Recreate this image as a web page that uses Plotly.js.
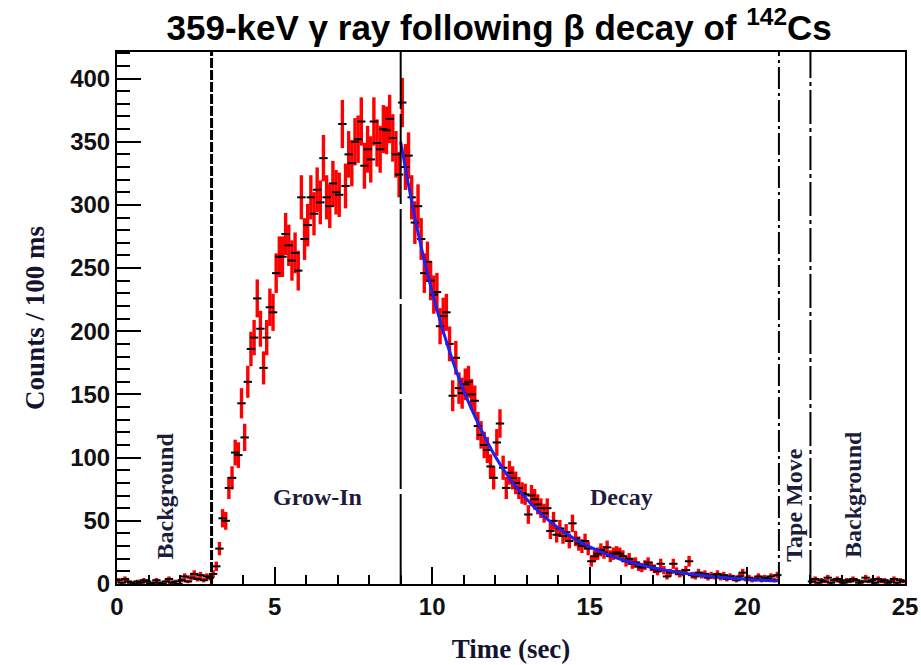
<!DOCTYPE html>
<html>
<head>
<meta charset="utf-8">
<script src="https://cdn.plot.ly/plotly-3.0.1.min.js"></script>
<style>html,body{margin:0;padding:0;background:#fff;}#chart{width:921px;height:665px;}</style>
</head>
<body>
<div id="chart"></div>
<script>
// ---- data (counts per 100 ms bin) ----
const binWidth = 0.1;
const bgLeftStart = 0.0;
const bgLeftCounts = [
  3,1,4,2,1,0,2,1,3,2,
  0,1,3,1,0,2,4,1,2,0,
  3,6,2,5,8,4,7,3,6,5
];
const growInStart = 3.0;
const growInCounts = [
  8,14,28,52,50,76,84,104,102,143,
  116,160,186,195,226,202,171,195,219,215,
  246,259,259,277,268,256,262,248,306,273,
  284,306,293,312,302,337,306,299,317,310,
  308,364,315,340,333,350,352,366,331,344,
  336,366,349,344,360,359,368,353,340,324
];
const decayStart = 9.0;
const decayCounts = [
  381,330,339,306,286,299,273,246,255,240,
  229,231,204,212,215,190,149,179,155,151,
  158,160,150,145,125,118,110,106,93,84,
  112,127,92,76,88,84,80,76,72,71,
  55,70,67,63,60,56,60,42,50,39,
  44,38,41,34,48,36,32,30,34,28,
  18,22,24,27,25,29,22,24,25,24,
  22,18,20,16,17,14,13,15,17,14,
  12,10,16,11,6,9,16,10,8,9,
  11,18,7,6,9,7,8,5,7,6,
  8,5,7,4,6,5,3,6,9,4,
  5,3,4,6,3,5,4,6,3,7
];
const bgRightStart = 22.0;
const bgRightCounts = [
  2,4,1,3,2,5,1,3,4,2,
  1,3,2,4,3,1,2,5,2,3,
  1,4,2,3,1,2,4,1,3,2
];
// decay fit curve
const fitTime = [9.0,9.5,10.0,10.5,11.0,11.5,12.0,12.5,13.0,13.5,14.0,14.5,15.0,15.5,16.0,16.5,17.0,17.5,18.0,18.5,19.0,19.5,20.0,20.5,21.0];
const fitCounts = [350,284,231,188,153,125,101,82,67,54.5,44.4,36,29.3,23.9,19.4,15.8,12.9,10.5,8.5,6.9,5.6,4.6,3.7,3.0,2.5];

const phaseBoundaries = [3, 9, 21, 22];
const phaseLabels = ['Background', 'Grow-In', 'Decay', 'Tape Move', 'Background'];
const phaseLabelX = [1.52, 6.35, 16.0, 21.48, 23.37];
const phaseLabelY = [70, 69, 69, 62, 71];
const phaseLabelAngle = [-90, 0, 0, -90, -90];

const xTicks = [0, 5, 10, 15, 20, 25];
const yTicks = [0, 50, 100, 150, 200, 250, 300, 350, 400];

// ---- build bins ----
function centers(start, n) {
  const out = [];
  for (let i = 0; i < n; i++) out.push(+(start + binWidth * (i + 0.5)).toFixed(3));
  return out;
}
const xs = [].concat(
  centers(bgLeftStart, bgLeftCounts.length),
  centers(growInStart, growInCounts.length),
  centers(decayStart, decayCounts.length),
  centers(bgRightStart, bgRightCounts.length)
);
const ys = [].concat(bgLeftCounts, growInCounts, decayCounts, bgRightCounts);

const traces = [
  {
    type: 'scatter', mode: 'markers', x: xs, y: ys,
    marker: {symbol: 'line-ew', size: 6, color: 'black', line: {color: 'black', width: 2}},
    error_y: {type: 'sqrt', visible: true, color: '#ff0000', thickness: 3.4, width: 0},
    hoverinfo: 'x+y', showlegend: false
  },
  {
    type: 'scatter', mode: 'lines', x: fitTime, y: fitCounts,
    line: {color: '#2020f0', width: 3, shape: 'spline'},
    showlegend: false
  }
];

const dashes = ['10px,2px', '90px,5px', '22px,4px,3px,4px', '34px,4px,4px,4px'];
const shapes = phaseBoundaries.map((b, i) => ({
  type: 'line', xref: 'x', yref: 'paper', x0: b, x1: b, y0: 0, y1: 1,
  line: {color: 'black', width: i === 0 ? 3 : 2, dash: dashes[i]}
}));

const labelFont = {family: 'Liberation Serif, Times New Roman, serif', size: 24, weight: 'bold', color: '#1c1c3c'};
const annotations = phaseLabels.map((t, i) => ({
  text: t, x: phaseLabelX[i], y: phaseLabelY[i], xref: 'x', yref: 'y',
  showarrow: false, textangle: phaseLabelAngle[i], font: labelFont,
  xanchor: 'center', yanchor: 'middle'
}));

const tickFont = {family: 'Liberation Sans, Arial, sans-serif', size: 24, weight: 'bold', color: '#111'};
const layout = {
  width: 921, height: 665,
  margin: {l: 117, r: 16, t: 52, b: 81},
  paper_bgcolor: '#fff', plot_bgcolor: '#fff',
  title: {
    text: '359-keV γ ray following β decay of <sup>142</sup>Cs',
    font: {family: 'Liberation Sans, Arial, sans-serif', size: 35, weight: 'bold', color: '#000'},
    xref: 'container', x: 0.542, xanchor: 'center',
    yref: 'container', y: 0.958, yanchor: 'middle'
  },
  xaxis: {
    range: [0, 25], tickvals: xTicks, ticktext: xTicks.map(String),
    ticks: 'inside', ticklen: 17, tickwidth: 2, tickcolor: 'black',
    minor: {dtick: 1, ticks: 'inside', ticklen: 9, tickwidth: 2, tickcolor: 'black'},
    showline: true, linecolor: 'black', linewidth: 2, mirror: true,
    showgrid: false, zeroline: false, tickfont: tickFont,
    title: {text: 'Time (sec)', font: {family: 'Liberation Serif, Times New Roman, serif', size: 27, weight: 'bold', color: '#141430'}, standoff: 20}
  },
  yaxis: {
    range: [0, 421], tickvals: yTicks, ticktext: yTicks.map(String),
    ticks: 'inside', ticklen: 24, tickwidth: 2, tickcolor: 'black',
    minor: {dtick: 10, ticks: 'inside', ticklen: 13, tickwidth: 2, tickcolor: 'black'},
    showline: true, linecolor: 'black', linewidth: 2, mirror: true,
    showgrid: false, zeroline: false, tickfont: tickFont,
    title: {text: 'Counts / 100 ms', font: {family: 'Liberation Serif, Times New Roman, serif', size: 27, weight: 'bold', color: '#141430'}, standoff: 18}
  },
  shapes: shapes,
  annotations: annotations
};

Plotly.newPlot('chart', traces, layout, {displayModeBar: false, staticPlot: true});
</script>
</body>
</html>
